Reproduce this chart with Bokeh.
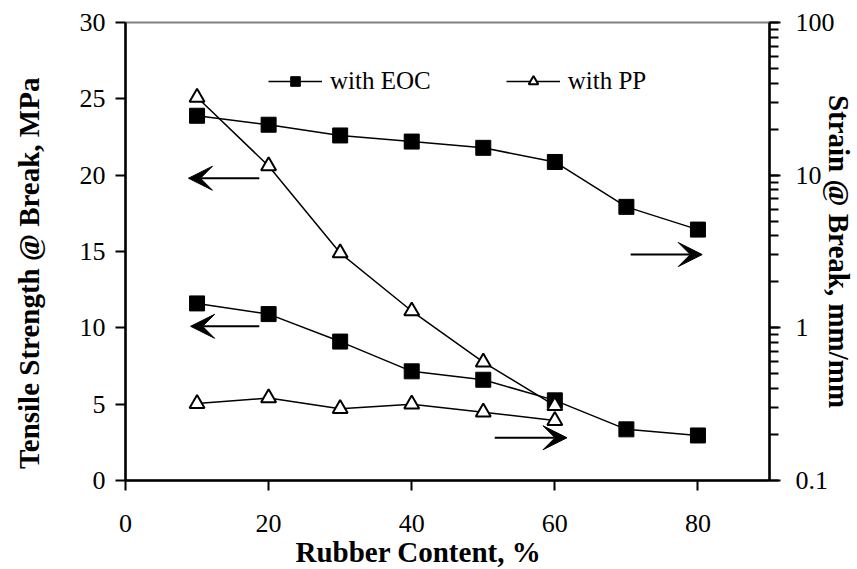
from bokeh.plotting import figure
from bokeh.models import (Range1d, LogScale, LogAxis, FixedTicker, LogTicker, NumeralTickFormatter,
                          Arrow, VeeHead, Title, Legend, LegendItem)
from bokeh.embed import file_html
from bokeh.resources import INLINE

# ---- data ----
rubber = [10, 20, 30, 40, 50, 60, 70, 80]
rubber_pp = [10, 20, 30, 40, 50, 60]

eoc_tensile = [11.6, 10.9, 9.1, 7.15, 6.6, 5.25, 3.35, 2.95]          # MPa (left axis)
eoc_strain = [24.5, 21.4, 18.2, 16.6, 15.1, 12.2, 6.2, 4.4]            # mm/mm (right, log)
pp_tensile = [25.1, 20.6, 14.9, 11.1, 7.75, 4.9]                       # MPa (left axis)
pp_strain = [0.319, 0.347, 0.295, 0.316, 0.280, 0.247]                 # mm/mm (right, log)

x_ticks = [0, 20, 40, 60, 80]
y_ticks = [0, 5, 10, 15, 20, 25, 30]

# arrows pointing to the axis each curve belongs to: (x_start, y_start, x_end, y_end)
arrows = [(18.7, 19.8, 8.8, 19.8),
          (18.7, 10.1, 9.1, 10.1),
          (70.6, 14.8, 80.6, 14.8),
          (51.6, 2.8, 61.7, 2.8)]

FONT = "Liberation Serif"
NB = "\u00a0"

p = figure(width=857, height=569, output_backend="svg", toolbar_location=None,
           x_range=Range1d(0, 90), y_range=Range1d(0, 30),
           min_border_left=125, min_border_right=88, min_border_top=22, min_border_bottom=89)
p.extra_y_ranges = {"strain": Range1d(0.1, 100)}
p.extra_y_scales = {"strain": LogScale()}

p.grid.visible = False
p.outline_line_color = "#808080"
p.outline_line_width = 2
p.background_fill_color = "white"
p.border_fill_color = "white"

def style_axis(ax, standoff):
    ax.axis_line_color = "black"
    ax.axis_line_width = 2.5
    ax.major_tick_line_color = "black"
    ax.major_tick_line_width = 2
    ax.major_tick_in = 0
    ax.major_tick_out = 10
    ax.minor_tick_line_color = "black"
    ax.minor_tick_line_width = 2
    ax.minor_tick_in = 0
    ax.minor_tick_out = 9
    ax.major_label_text_font = FONT
    ax.major_label_text_font_size = "26px"
    ax.major_label_text_color = "black"
    ax.major_label_standoff = standoff
    ax.axis_label_text_font = FONT
    ax.axis_label_text_font_size = "29px"
    ax.axis_label_text_font_style = "bold"
    ax.axis_label_text_color = "black"

xa = p.xaxis[0]
xa.ticker = FixedTicker(ticks=x_ticks)
style_axis(xa, 24)

ya = p.yaxis[0]
ya.ticker = FixedTicker(ticks=y_ticks)
style_axis(ya, 10)
ya.axis_label = "Tensile Strength @ Break, MPa" + NB * 6
ya.axis_label_standoff = 32

ra = LogAxis(y_range_name="strain", ticker=LogTicker(num_minor_ticks=10),
             formatter=NumeralTickFormatter(format="0.[0]"))
style_axis(ra, 15)
ra.major_tick_out = 11
ra.axis_label = "Strain @ Break, mm/mm"
ra.axis_label_standoff = -15
p.add_layout(ra, "right")

p.add_layout(Title(text="Rubber Content, %", align="left", offset=170, standoff=0,
                   vertical_align="middle", text_font=FONT, text_font_size="29px",
                   text_font_style="bold", text_color="black"), "below")

# ---- series ----
l1 = p.line(rubber, eoc_tensile, line_color="black", line_width=1.5)
s1 = p.scatter(rubber, eoc_tensile, marker="square", size=15, fill_color="black", line_color="black")
l2 = p.line(rubber, eoc_strain, line_color="black", line_width=1.5, y_range_name="strain")
s2 = p.scatter(rubber, eoc_strain, marker="square", size=15, fill_color="black", line_color="black",
               y_range_name="strain")
l3 = p.line(rubber_pp, pp_tensile, line_color="black", line_width=1.5)
s3 = p.scatter(rubber_pp, pp_tensile, marker="triangle", size=15, fill_color="white", line_color="black",
               line_width=2)
l4 = p.line(rubber_pp, pp_strain, line_color="black", line_width=1.5, y_range_name="strain")
s4 = p.scatter(rubber_pp, pp_strain, marker="triangle", size=15, fill_color="white", line_color="black",
               line_width=2, y_range_name="strain")

for xs, ys, xe, ye in arrows:
    p.add_layout(Arrow(end=VeeHead(size=24, fill_color="black", line_color="black", line_width=1),
                       x_start=xs, y_start=ys, x_end=xe, y_end=ye,
                       line_color="black", line_width=2))

legend = Legend(items=[LegendItem(label="with EOC", renderers=[l1, s1]),
                       LegendItem(label="with PP", renderers=[l3, s3])],
                orientation="horizontal", location=(143, 385),
                label_text_font=FONT, label_text_font_size="25px", label_text_color="black",
                glyph_width=54, glyph_height=24, label_standoff=8, spacing=75,
                padding=0, margin=0, border_line_color=None, background_fill_alpha=0)
p.add_layout(legend)

open("out.html", "w").write(file_html(p, INLINE))
